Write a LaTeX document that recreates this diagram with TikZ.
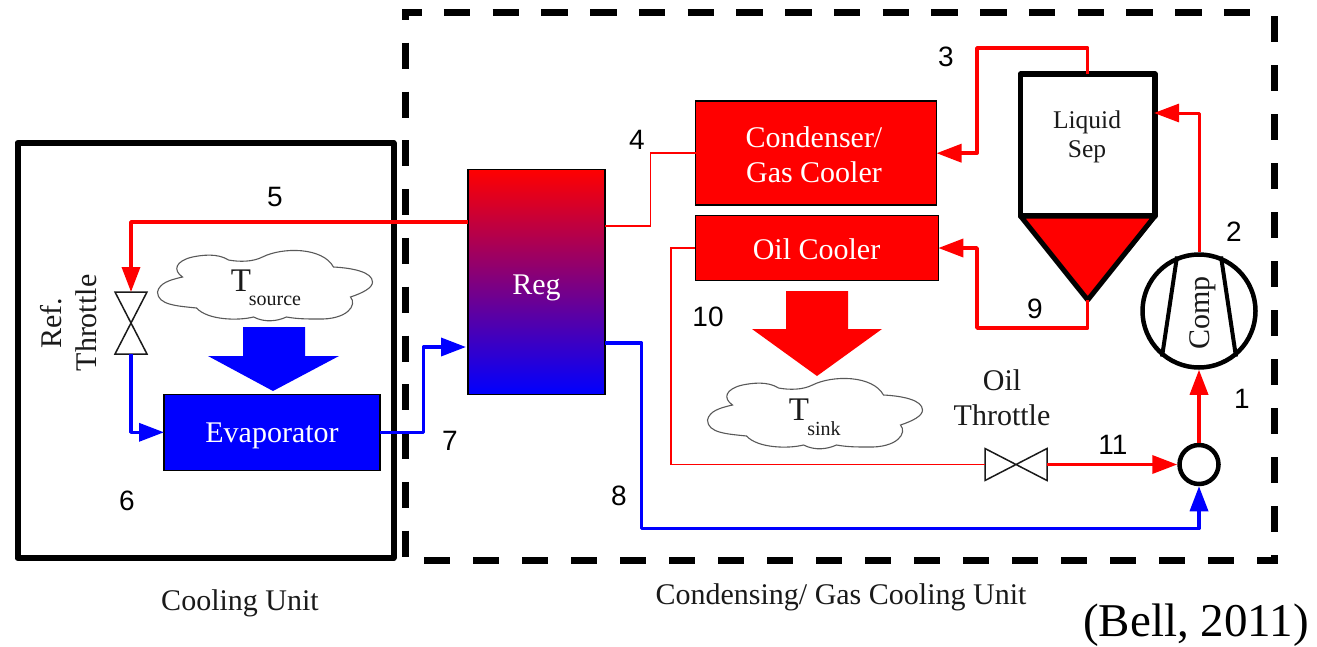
\documentclass[tikz,border=0pt]{standalone}
\usepackage{fontspec}
\setmainfont{Liberation Serif}
\newfontfamily\numfont{Liberation Sans}
\usetikzlibrary{arrows.meta}
\definecolor{inkc}{HTML}{1A1A1A}
\newcommand{\fsz}[2]{\fontsize{#1}{#2}\selectfont}
\tikzset{
  frame/.style={line width=6pt,black,line join=round},
  dashfr/.style={line width=7pt,black,line cap=butt},
  part/.style={rectangle,draw=black,line width=1.5pt,outer sep=0pt,inner sep=0pt,text=white,align=center,font=\fsz{30}{35}},
  label/.style={inner sep=0pt,text=inkc,align=center,font=\fsz{30}{35}},
  num/.style={inner sep=0pt,text=black,font=\numfont\fsz{28}{32}},
  hot/.style={red,line width=3.5pt,line join=round},
  cold/.style={blue,line width=3.5pt,line join=round},
  thin hot/.style={red,line width=1.5pt,line join=miter},
  tip/.style={-{Triangle[length=25pt,width=18pt]}},
  thr/.style={inner sep=0pt,outer sep=0pt,rectangle},
  thrline/.style={draw=inkc,line width=1.5pt,line join=miter,fill=white},
  cloudline/.style={draw=black!65,line width=1.1pt,fill=white},
  pics/cloudshape/.style={code={
    \draw[cloudline] (0,42) .. controls (2,33) and (12,30) .. (25,27)
      .. controls (15,20) and (18,11) .. (35,7)
      .. controls (45,5) and (60,3) .. (71,10)
      .. controls (82,12) and (95,12) .. (105,7)
      .. controls (125,-3) and (165,-3) .. (176,17)
      .. controls (195,18) and (215,22) .. (215,32)
      .. controls (215,38) and (205,43) .. (193,47)
      .. controls (200,55) and (190,70) .. (160,69)
      .. controls (150,69) and (140,69) .. (129,67)
      .. controls (120,71) and (108,73) .. (96,67)
      .. controls (80,71) and (50,70) .. (39,58)
      .. controls (20,56) and (0,55) .. (0,42) -- cycle;
  }}
}
\begin{document}
\begin{tikzpicture}[x=1pt,y=-1pt]
\useasboundingbox (0,0) rectangle (1317,646);
\fill[white] (0,0) rectangle (1317,646);

% frames
\coordinate (tl) at (405.7,12.7);
\coordinate (tr) at (1274,12.7);
\coordinate (bl) at (405.7,559);
\coordinate (br) at (1274,560.5);
\draw[dashfr,dash pattern=on 26pt off 22.8pt,dash phase=18.8pt] (tl) -- (bl);
\draw[dashfr,dash pattern=on 26.5pt off 22.25pt,dash phase=7.2pt] ([xshift=-3.5pt]tl) -- ([xshift=-10pt]tr);
\draw[dashfr,dash pattern=on 26pt off 23pt,dash phase=45.7pt] (tr) -- (br);
\draw[dashfr,dash pattern=on 26pt off 23pt,dash phase=5pt] ([xshift=3.5pt]br) -- (bl |- br);
\node[draw=black,frame,rectangle,inner sep=0pt,outer sep=0pt,minimum width=376pt,minimum height=415pt] (cool) at (205.5,350.5) {};

% components
\node[part,fill=blue,minimum width=216pt,minimum height=76pt] (evap) at (272,432.3) {};
\node[part,top color=red,bottom color=blue,minimum width=137pt,minimum height=225pt] (reg) at (536.5,282) {};
\node[part,fill=red,minimum width=241pt,minimum height=104pt] (cond) at (816,153.2) {};
\node[part,fill=red,minimum width=243pt,minimum height=65pt] (oil) at (816.8,248) {};
\node[part,draw=none,fill=none] (evaptext) at (272,436) {Evaporator};
\node[part,draw=none,fill=none] (regtext) at (536.5,288) {Reg};
\node[part,draw=none,fill=none] (condtext) at (814,154.5) {Condenser/\\Gas Cooler};
\node[part,draw=none,fill=none] (oiltext) at (816.5,249.5) {Oil Cooler};

% liquid separator
\node[rectangle,draw=black,line width=5.5pt,outer sep=0pt,inner sep=0pt,minimum width=134.5pt,minimum height=142pt,
      line join=round] (sep) at (1087.7,145) {};
\coordinate (sepb) at (1087.7,300);
\draw[fill=red,draw=black,line width=5pt,line join=round] (sep.south west) -- (sep.south east) -- (sepb) -- cycle;
\node[label,font=\fsz{25.5}{29}] (septext) at (1087,136.5) {Liquid\\Sep};

% compressor & mixer
\node[circle,draw=black,line width=4.5pt,minimum size=113pt,inner sep=0pt] (comp) at (1199,311) {};
\draw[black,line width=4pt] (comp.112) -- (comp.231);
\draw[black,line width=4pt] (comp.68) -- (comp.309);
\node[label,rotate=90] (comptext) at (1203,313) {Comp};
\node[circle,draw=black,line width=4.5pt,minimum size=39pt,inner sep=0pt] (mix) at (1199,464.5) {};

% throttles
\node[thr,minimum width=32pt,minimum height=62pt] (rthr) at (131,323) {};
\draw[thrline] (rthr.north west) -- (rthr.north east) -- (rthr.south west) -- (rthr.south east) -- cycle;
\node[thr,minimum width=62pt,minimum height=32pt] (othr) at (1016,464.5) {};
\draw[thrline] (othr.north west) -- (othr.south east) -- (othr.north east) -- (othr.south west) -- cycle;

% connector ports
\coordinate (r5) at (468,222);
\coordinate (b7) at (423.5,347);
\coordinate (r7) at (466,347);
\coordinate (r8) at (605,343);
\coordinate (b8) at (641.5,528.5);
\coordinate (r4) at (605,226);
\coordinate (b4) at (650.5,153.2);
\coordinate (b10) at (671,464.5);
\coordinate (sepin) at (1154,113);
\coordinate (b3) at (977,48);
\coordinate (b9) at (977,328);

% connectors
\draw[hot,tip] (r5) -| (rthr.north);
\draw[cold,tip] (rthr.south) |- (evap.west);
\draw[cold,tip] (evap.east) -| (b7) -- (r7);
\draw[cold,tip] (r8) -| (b8) -| (mix.south);
\draw[thin hot] (r4) -| (b4) -- (cond.west);
\draw[thin hot] (oil.west) -| (b10) -- (othr.west);
\draw[hot,tip] (othr.east) -- (mix.west);
\draw[hot,tip] (mix.north) -- (comp.south);
\draw[hot,line width=3pt,tip] (comp.north) |- (sepin);
\draw[hot,tip] (sep.north) |- (b3) |- (cond.east);
\draw[hot,tip] (sepb) |- (b9) |- (oil.east);

% heat arrows
\fill[blue] (243,327) -- (305,327) -- (305,356) -- (339,356) -- (273,391) -- (208,356) -- (243,356) -- cycle;
\fill[red] (786,291) -- (848,291) -- (848,329) -- (882,329) -- (817,376) -- (752,329) -- (786,329) -- cycle;

% clouds
\pic at (157.5,250) {cloudshape};
\pic at (707.5,378) {cloudshape};
\node[label,font=\fsz{33}{36}] (tsrc) at (241,281) {T};
\node[label,font=\fsz{20}{22}] (tsrcsub) at (275,301) {source};
\node[label,font=\fsz{33}{36}] (tsnk) at (799,410) {T};
\node[label,font=\fsz{20}{22}] (tsnksub) at (824,429) {sink};

% text labels
\node[label,rotate=90] (rtext) at (69,323) {Ref.\\Throttle};
\node[label] (otext) at (1002,398) {Oil\\Throttle};
\node[label] (cu) at (240,603) {Cooling Unit};
\node[label] (cgu) at (841,597) {Condensing/ Gas Cooling Unit};
\node[label,font=\fsz{47}{50},text=black] (cite) at (1196,625) {(Bell, 2011)};

% numbers
\node[num] (n5) at (275,197) {5};
\node[num] (n3) at (946,57) {3};
\node[num] (n4) at (637,140) {4};
\node[num] (n2) at (1234,232) {2};
\node[num] (n9) at (1035,309) {9};
\node[num] (n10) at (708,317) {10};
\node[num] (n1) at (1242,399) {1};
\node[num] (n11) at (1113,445) {11};
\node[num] (n7) at (450,441) {7};
\node[num] (n8) at (619,496) {8};
\node[num] (n6) at (127,501) {6};
\end{tikzpicture}
\end{document}
